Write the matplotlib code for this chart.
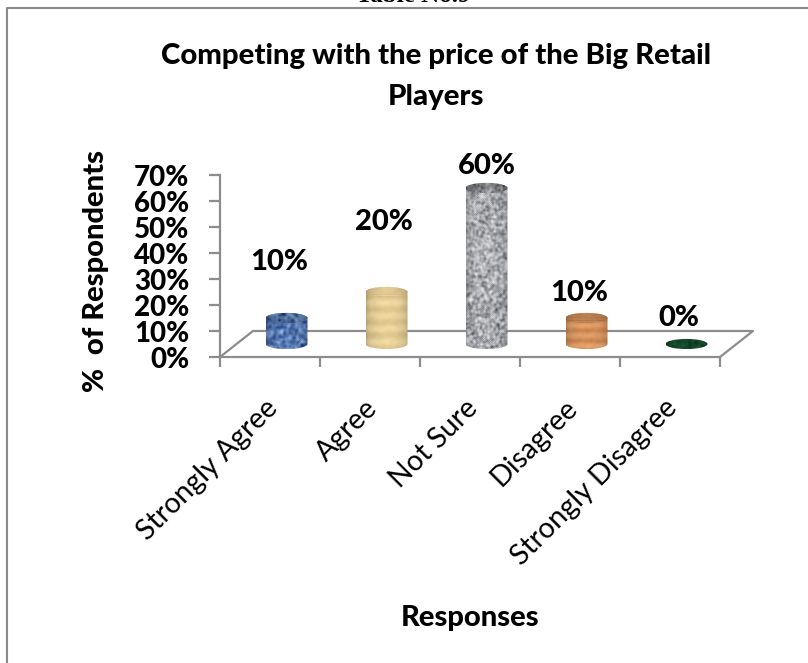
#!/usr/bin/env python3
"""Cylinder column chart of survey responses on competing with big retail prices."""

import matplotlib

matplotlib.use("Agg")
import matplotlib.pyplot as plt
import numpy as np
from matplotlib.patches import Ellipse, PathPatch
from matplotlib.path import Path
from matplotlib.ticker import FixedLocator, PercentFormatter
from matplotlib.transforms import ScaledTranslation

categories = ["Strongly Agree", "Agree", "Not Sure", "Disagree", "Strongly Disagree"]
percent_values = [10, 20, 60, 10, 0]
value_labels = ["10%", "20%", "60%", "10%", "0%"]
y_ticks = [0, 10, 20, 30, 40, 50, 60, 70]

# value label offsets from the top of each cylinder, in pixels
label_dx = [-7, -3, 0, -7, -8]
label_dy = [56, 70, 22, 25, 26]

W, H = 808, 663
AX_LEFT, AX_RIGHT = 220, 720
AX_BOTTOM, AX_TOP = 357, 175
DEPTH_X = 0.33  # category units
DEPTH_Y = 10.0  # percent units
CYL_WIDTH = 0.42
CYL_RY = 1.95  # percent units

GRAY = "#8c8c8c"
FONT = "Lato"
HEAVY = "black"


def smooth_noise(rng, shape, passes):
    noise = rng.random(shape)
    for _ in range(passes):
        noise = (
            noise
            + np.roll(noise, 1, 0)
            + np.roll(noise, -1, 0)
            + np.roll(noise, 1, 1)
            + np.roll(noise, -1, 1)
        ) / 5.0
    noise = noise - noise.min()
    return noise / noise.max()


def make_texture(kind, shape, rng):
    rows, cols = shape
    if kind == "blue":
        n = smooth_noise(rng, shape, 3)
        dark, light = np.array([0.10, 0.22, 0.45]), np.array([0.58, 0.72, 0.92])
    elif kind == "granite":
        n = smooth_noise(rng, shape, 2) ** 0.75
        dark, light = np.array([0.25, 0.27, 0.30]), np.array([0.96, 0.96, 0.96])
    elif kind == "tan":
        yy = np.linspace(0, 1, rows)[:, None]
        n = 0.62 + 0.1 * np.sin(yy * 30) * np.ones((rows, cols))
        n = n + 0.14 * smooth_noise(rng, shape, 4)
        dark, light = np.array([0.66, 0.54, 0.30]), np.array([0.98, 0.90, 0.70])
    elif kind == "wood":
        yy = np.linspace(0, 1, rows)[:, None]
        n = 0.52 + 0.14 * np.sin(yy * 22) * np.ones((rows, cols))
        n = n + 0.18 * smooth_noise(rng, shape, 4)
        dark, light = np.array([0.62, 0.35, 0.16]), np.array([0.95, 0.70, 0.48])
    else:
        n = smooth_noise(rng, shape, 3)
        dark, light = np.array([0.04, 0.20, 0.12]), np.array([0.12, 0.36, 0.22])
    n = np.clip(n, 0, 1)[..., None]
    img = dark + (light - dark) * n
    # round the column off with slightly darker edges
    xx = np.linspace(-1, 1, cols)
    shade = 0.78 + 0.26 * np.sqrt(np.clip(1 - (xx * 0.98) ** 2, 0, 1))
    return np.clip(img * shade[None, :, None], 0, 1)


def cylinder_path(cx, base, top, half_w, ry):
    """Outline of the body: straight sides, rounded lower edge, rounded top."""
    kappa = 0.5523
    verts = [
        (cx - half_w, top),
        (cx - half_w, base),
        (cx - half_w, base - ry * kappa),
        (cx - half_w * kappa, base - ry),
        (cx, base - ry),
        (cx + half_w * kappa, base - ry),
        (cx + half_w, base - ry * kappa),
        (cx + half_w, base),
        (cx + half_w, top),
        (cx + half_w, top + ry * kappa),
        (cx + half_w * kappa, top + ry),
        (cx, top + ry),
        (cx - half_w * kappa, top + ry),
        (cx - half_w, top + ry * kappa),
        (cx - half_w, top),
        (cx - half_w, top),
    ]
    codes = (
        [Path.MOVETO, Path.LINETO]
        + [Path.CURVE4] * 6
        + [Path.LINETO]
        + [Path.CURVE4] * 6
        + [Path.CLOSEPOLY]
    )
    return Path(verts, codes)


def main() -> None:
    rng = np.random.default_rng(9)
    fig = plt.figure(figsize=(W / 100, H / 100), dpi=100, facecolor="white")
    ax = fig.add_axes(
        [AX_LEFT / W, 1 - AX_BOTTOM / H, (AX_RIGHT - AX_LEFT) / W, (AX_BOTTOM - AX_TOP) / H]
    )
    ax.patch.set_visible(False)

    x = np.arange(len(categories))
    left_edge, right_edge = x[0] - 0.5, x[-1] + 0.5

    # chart frame, open on the right and at the bottom
    fig.add_artist(plt.Line2D([7 / W, 7 / W, 1], [0, 1 - 8 / H, 1 - 8 / H], color="#8a8a8a", lw=1.5))

    # floor of the 3-D plot
    floor_x = [left_edge, left_edge + DEPTH_X, right_edge + DEPTH_X, right_edge]
    floor_y = [0, DEPTH_Y, DEPTH_Y, 0]
    ax.plot(floor_x, floor_y, color=GRAY, lw=1.6, clip_on=False, zorder=1)

    kinds = ["blue", "tan", "granite", "wood", "green"]
    top_tint = [0.82, 0.96, 0.72, 0.86, 1.0]
    for i, val in enumerate(percent_values):
        cx = x[i] + DEPTH_X / 2
        base = DEPTH_Y / 2
        top = base + val
        half_w = CYL_WIDTH / 2
        if val > 0:
            patch = PathPatch(cylinder_path(cx, base, top, half_w, CYL_RY), fc="none", ec="none")
            ax.add_patch(patch)
            h_px = int(val * 2.6) + 12
            img = ax.imshow(
                make_texture(kinds[i], (h_px, 42), rng),
                extent=(cx - half_w, cx + half_w, base - CYL_RY, top + CYL_RY),
                aspect="auto",
                interpolation="bilinear",
                zorder=3,
            )
            img.set_clip_path(patch)
        # the top face gets its own darker copy of the texture
        cap = Ellipse((cx, top), CYL_WIDTH, CYL_RY * 2, fc="none", ec="none")
        ax.add_patch(cap)
        cap_img = ax.imshow(
            make_texture(kinds[i], (10, 42), rng) * top_tint[i],
            extent=(cx - half_w, cx + half_w, top - CYL_RY, top + CYL_RY),
            aspect="auto",
            interpolation="bilinear",
            zorder=4,
        )
        cap_img.set_clip_path(cap)
        ax.annotate(
            value_labels[i],
            (cx, top),
            xytext=(label_dx[i], label_dy[i]),
            textcoords="offset pixels",
            ha="center",
            va="center",
            fontsize=21,
            fontweight=HEAVY,
            family=FONT,
            zorder=6,
        )

    ax.set_xlim(left_edge, right_edge)
    ax.set_ylim(y_ticks[0], y_ticks[-1])
    for side in ("top", "right"):
        ax.spines[side].set_visible(False)
    for side in ("left", "bottom"):
        ax.spines[side].set_color(GRAY)
        ax.spines[side].set_linewidth(1.6)

    ax.xaxis.set_major_locator(FixedLocator(np.arange(left_edge, right_edge + 0.5)))
    ax.xaxis.set_tick_params(which="major", length=7, width=1.6, color=GRAY, labelbottom=False)
    ax.xaxis.set_minor_locator(FixedLocator(x))
    ax.set_xticks(x, labels=categories, minor=True)
    ax.tick_params(axis="x", which="minor", length=0, pad=27)
    shift = ScaledTranslation(-6 / 100, 0, fig.dpi_scale_trans)
    for lab in ax.get_xticklabels(minor=True):
        lab.set(rotation=45, ha="right", rotation_mode="anchor", fontsize=20.5, family=FONT)
        lab.set_transform(lab.get_transform() + shift)

    ax.set_yticks(y_ticks)
    ax.yaxis.set_major_formatter(PercentFormatter(decimals=0))
    ax.tick_params(axis="y", length=8, width=1.6, color=GRAY, pad=14)
    for lab in ax.get_yticklabels():
        lab.set(fontsize=20, fontweight=HEAVY, family=FONT)

    fig.text(436 / W, 1 - 56 / H, "Competing with the price of the Big Retail", ha="center", va="center",
             fontsize=21.2, fontweight=HEAVY, family=FONT)
    fig.text(436 / W, 1 - 97 / H, "Players", ha="center", va="center", fontsize=21.2, fontweight=HEAVY, family=FONT)
    fig.text(96 / W, 1 - 271 / H, "%  of Respondents", rotation=90, ha="center", va="center",
             fontsize=21, fontweight=HEAVY, family=FONT)
    fig.text(470 / W, 1 - 618 / H, "Responses", ha="center", va="center", fontsize=21, fontweight=HEAVY, family=FONT)
    fig.text(413 / W, 1 - 2 / H, "Table No.9", ha="center", va="baseline", fontsize=18,
             family="Liberation Serif", fontweight="bold")

    fig.savefig("out.png", dpi=100)
    plt.close(fig)


if __name__ == "__main__":
    main()
